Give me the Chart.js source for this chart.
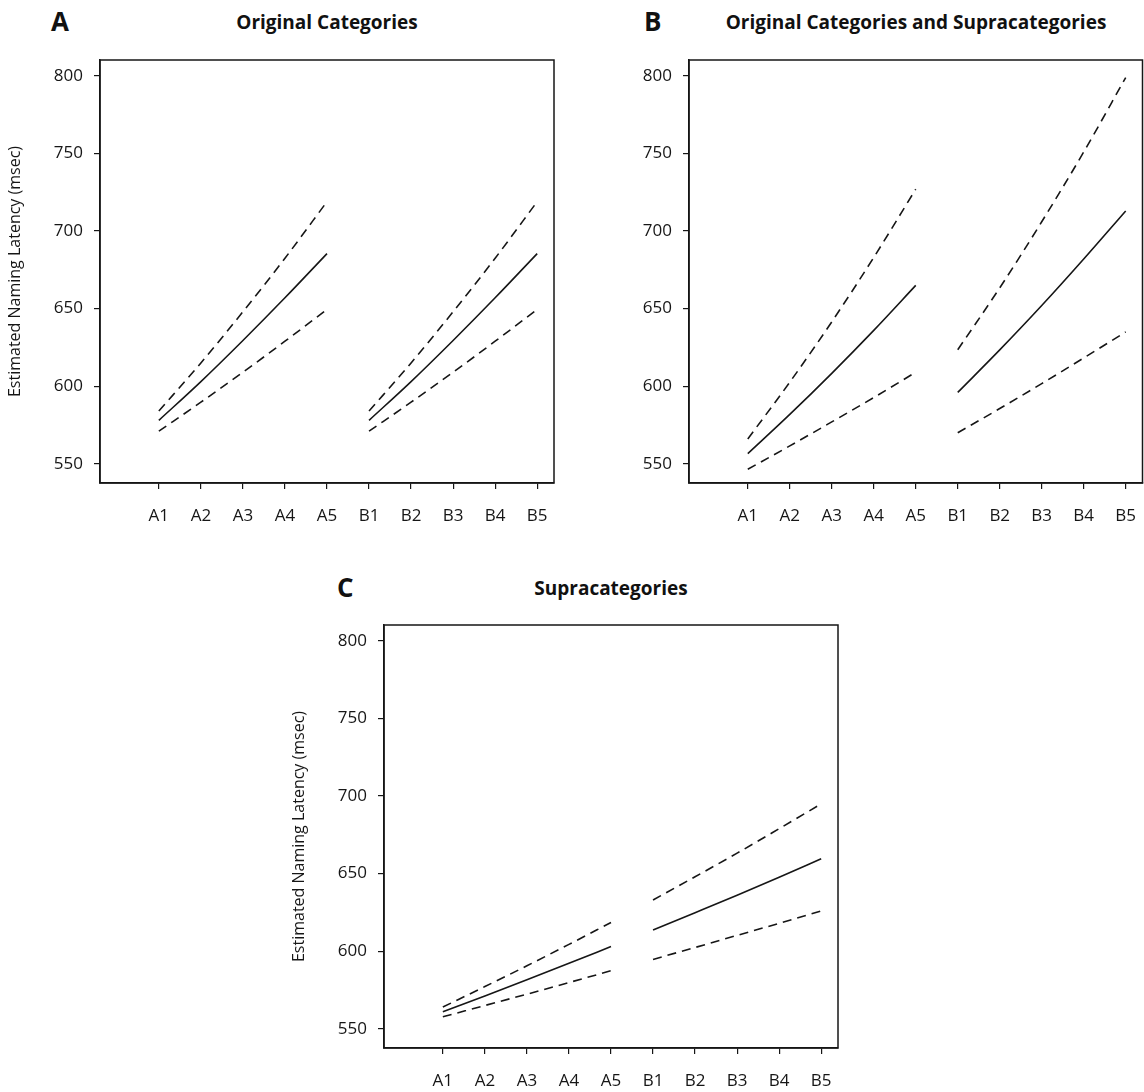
<!DOCTYPE html>
<html>
<head>
<meta charset="utf-8">
<script src="https://cdn.jsdelivr.net/npm/chart.js@4.4.1/dist/chart.umd.min.js"></script>
<style>
  body { margin: 0; background: #fff; width: 1144px; height: 1092px; position: relative; overflow: hidden; font-family: "Open Sans", sans-serif; }
  canvas { position: absolute; }
  .letter { position: absolute; font-weight: 700; font-size: 26px; color: #111; line-height: 1; }
  .title { position: absolute; font-weight: 700; font-size: 19px; color: #111; line-height: 1; transform: translateX(-50%); white-space: nowrap; }
</style>
</head>
<body>
<div class="letter" style="left:51px; top:8px;">A</div>
<div class="title" style="left:327px; top:13px;">Original Categories</div>
<canvas id="chartA" width="560" height="500" style="left:0; top:40px;"></canvas>

<div class="letter" style="left:644px; top:8px;">B</div>
<div class="title" style="left:916px; top:13px;">Original Categories and Supracategories</div>
<canvas id="chartB" width="555" height="500" style="left:589px; top:40px;"></canvas>

<div class="letter" style="left:337px; top:574px;">C</div>
<div class="title" style="left:611px; top:579px;">Supracategories</div>
<canvas id="chartC" width="560" height="487" style="left:284px; top:605px;"></canvas>

<script>
// categorias do eixo x e ticks do eixo y
const xLabels = ['A1', 'A2', 'A3', 'A4', 'A5', 'B1', 'B2', 'B3', 'B4', 'B5'];
const yTicks = [550, 600, 650, 700, 750, 800];

// A - Original Categories (estimativa e limites)
const origEstA = [578, 603, 629.5, 657, 685.5];
const origUpperA = [584, 615, 648, 682.5, 719];
const origLowerA = [571, 589.7, 609, 629, 649.5];
const origEstB = [578, 603, 629.5, 657, 685.5];
const origUpperB = [584, 615, 648, 682.5, 719];
const origLowerB = [571, 589.7, 609, 629, 649.5];

// B - Original Categories and Supracategories
const bothEstA = [556.5, 581.8, 608.3, 636, 665];
const bothUpperA = [566, 602.6, 641.5, 683, 727];
const bothLowerA = [546.5, 561.5, 577, 592.7, 609];
const bothEstB = [596, 623.4, 652, 682, 713];
const bothUpperB = [623.5, 663.4, 706, 751, 799];
const bothLowerB = [570, 585.6, 601.7, 618.2, 635];

// C - Supracategories
const supraEstA = [561, 571.2, 581.6, 592.2, 603];
const supraUpperA = [564, 577.2, 590.6, 604.4, 618.5];
const supraLowerA = [557.7, 565, 572.3, 579.8, 587.4];
const supraEstB = [613.6, 624.8, 636.1, 647.7, 659.6];
const supraUpperB = [633, 648, 663.2, 679, 695];
const supraLowerB = [594.7, 602.4, 610.2, 618, 626];

const INK = '#161616';

// desenha a moldura completa da área do gráfico
const boxPlugin = {
  id: 'box',
  afterDraw(chart) {
    const a = chart.chartArea;
    const ctx = chart.ctx;
    ctx.save();
    ctx.strokeStyle = INK;
    ctx.lineWidth = 1.5;
    ctx.strokeRect(a.left, a.top, a.right - a.left, a.bottom - a.top);
    ctx.restore();
  }
};

function toPoints(values, offset) {
  return values.map((v, i) => ({ x: i + offset, y: v }));
}

function makeSet(values, offset, dashed) {
  return {
    data: toPoints(values, offset),
    borderColor: INK,
    borderWidth: 1.6,
    borderDash: dashed ? [9, 6] : [],
    pointRadius: 0,
    fill: false,
    cubicInterpolationMode: 'monotone'
  };
}

function makeChart(id, groups, showTitle, rightPad, xHeight) {
  const datasets = [];
  groups.forEach((g, gi) => {
    const offset = gi * 5;
    datasets.push(makeSet(g.est, offset, false));
    datasets.push(makeSet(g.upper, offset, true));
    datasets.push(makeSet(g.lower, offset, true));
  });

  return new Chart(document.getElementById(id), {
    type: 'line',
    data: { datasets: datasets },
    plugins: [boxPlugin],
    options: {
      responsive: false,
      animation: false,
      devicePixelRatio: 1,
      layout: { padding: { top: 20, right: rightPad, left: 0, bottom: 0 } },
      plugins: { legend: { display: false }, tooltip: { enabled: false } },
      scales: {
        x: {
          type: 'linear',
          min: -1.4,
          max: 9.4,
          afterBuildTicks: (scale) => { scale.ticks = xLabels.map((l, i) => ({ value: i })); },
          afterFit: (scale) => {
            scale.height = xHeight;
            // sem folga extra para os rótulos das pontas
            scale.paddingLeft = 0;
            scale.paddingRight = 0;
          },
          ticks: {
            callback: (value) => xLabels[value],
            color: INK,
            padding: 17,
            maxRotation: 0,
            autoSkip: false,
            font: { family: 'Open Sans', size: 17 }
          },
          grid: { drawOnChartArea: false, drawTicks: true, tickLength: 6, color: INK, lineWidth: 1.2 },
          border: { display: true, color: INK, width: 1.5 }
        },
        y: {
          type: 'linear',
          min: 537.6,
          max: 810.3,
          afterBuildTicks: (scale) => { scale.ticks = yTicks.map(v => ({ value: v })); },
          afterFit: (scale) => {
            scale.width = 100;
            scale.paddingTop = 0;
            scale.paddingBottom = 0;
          },
          ticks: {
            color: INK,
            padding: 11,
            font: { family: 'Open Sans', size: 17 }
          },
          grid: { drawOnChartArea: false, drawTicks: true, tickLength: 6, color: INK, lineWidth: 1.2 },
          border: { display: true, color: INK, width: 1.5 },
          title: {
            display: showTitle,
            text: 'Estimated Naming Latency (msec)',
            color: INK,
            padding: { top: 6, bottom: 0 },
            font: { family: 'Open Sans', size: 16 }
          }
        }
      }
    }
  });
}

makeChart('chartA', [
  { est: origEstA, upper: origUpperA, lower: origLowerA },
  { est: origEstB, upper: origUpperB, lower: origLowerB }
], true, 6, 57);

makeChart('chartB', [
  { est: bothEstA, upper: bothUpperA, lower: bothLowerA },
  { est: bothEstB, upper: bothUpperB, lower: bothLowerB }
], false, 1.5, 57);

makeChart('chartC', [
  { est: supraEstA, upper: supraUpperA, lower: supraLowerA },
  { est: supraEstB, upper: supraUpperB, lower: supraLowerB }
], true, 6, 44);
</script>
</body>
</html>
